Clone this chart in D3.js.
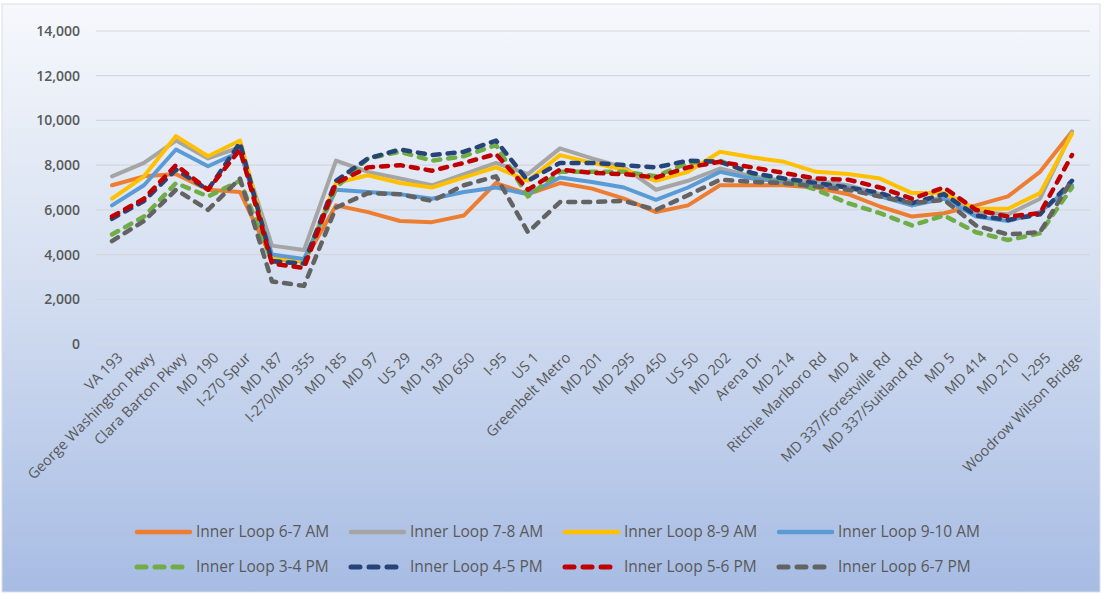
<!DOCTYPE html>
<html><head><meta charset="utf-8">
<script src="https://cdn.jsdelivr.net/npm/d3@7"></script>
<style>html,body{margin:0;padding:0;background:#fff;}svg{display:block;}</style>
</head><body>
<svg id="chart" width="1103" height="595"></svg>
<script>
const categories = ["VA 193","George Washington Pkwy","Clara Barton Pkwy","MD 190","I-270 Spur","MD 187","I-270/MD 355","MD 185","MD 97","US 29","MD 193","MD 650","I-95","US 1","Greenbelt Metro","MD 201","MD 295","MD 450","US 50","MD 202","Arena Dr","MD 214","Ritchie Marlboro Rd","MD 4","MD 337/Forestville Rd","MD 337/Suitland Rd","MD 5","MD 414","MD 210","I-295","Woodrow Wilson Bridge"];
const am67  = [7100,7500,7600,6900,6800,3800,3700,6200,5900,5500,5450,5750,7200,6700,7200,6950,6500,5900,6200,7100,7100,7100,7000,6700,6150,5700,5850,6200,6600,7700,9500];
const am78  = [7500,8100,9100,8300,8800,4400,4200,8200,7700,7400,7100,7600,8100,7600,8750,8300,7900,6900,7300,7850,7500,7300,7300,7100,6700,6200,6600,5900,5800,6500,9500];
const am89  = [6500,7500,9300,8400,9100,3900,3700,7200,7550,7200,7000,7450,7900,7300,8450,8100,7800,7300,7700,8600,8350,8150,7700,7600,7400,6750,6750,6050,6050,6750,9400];
const am910 = [6200,7100,8700,7950,8600,4000,3800,6900,6800,6700,6500,6800,7000,6700,7450,7250,7000,6450,7000,7700,7400,7250,7100,7000,6600,6200,6500,5700,5500,5900,7100];
const pm34  = [4900,5700,7200,6600,7300,3700,3600,7000,8300,8600,8200,8400,8900,6600,7700,7700,7700,7500,8100,8200,7600,7350,6900,6300,5850,5300,5750,5000,4650,4950,7000];
const pm45  = [5600,6400,7800,6900,9000,3700,3600,7300,8300,8700,8450,8600,9100,7300,8100,8100,8000,7900,8200,8150,7650,7400,7200,7000,6750,6300,6700,5750,5550,5800,7300];
const pm56  = [5700,6500,8000,6900,8700,3600,3400,7200,7900,8000,7750,8100,8500,6900,7800,7650,7600,7450,7900,8150,7900,7650,7400,7350,7000,6500,7000,6000,5700,5850,8450];
const pm67  = [4600,5500,6900,6000,7400,2800,2600,6100,6750,6700,6400,7100,7500,5000,6350,6350,6400,6000,6650,7350,7250,7200,7050,6900,6600,6300,6450,5300,4900,5000,7350];
const seriesNames = ["Inner Loop 6-7 AM","Inner Loop 7-8 AM","Inner Loop 8-9 AM","Inner Loop 9-10 AM","Inner Loop 3-4 PM","Inner Loop 4-5 PM","Inner Loop 5-6 PM","Inner Loop 6-7 PM"];
const seriesValues = [am67, am78, am89, am910, pm34, pm45, pm56, pm67];
const seriesColors = ["#ED7D31","#A5A5A5","#FFC000","#5B9BD5","#70AD47","#264478","#C00000","#636363"];
const seriesDashed = [false,false,false,false,true,true,true,true];
const yTicks = [0,2000,4000,6000,8000,10000,12000,14000];

const svg = d3.select("#chart");
const W = 1103, H = 595;
const defs = svg.append("defs");
const grad = defs.append("linearGradient").attr("id","bg").attr("x1",0).attr("y1",0).attr("x2",0).attr("y2",1);
grad.append("stop").attr("offset","0%").attr("stop-color","#f6f8fc");
grad.append("stop").attr("offset","45%").attr("stop-color","#d6e0f1");
grad.append("stop").attr("offset","100%").attr("stop-color","#a7bce4");
svg.append("rect").attr("x",2).attr("y",4).attr("width",W-5).attr("height",H-7)
  .attr("fill","url(#bg)").attr("stroke","#d9dde6").attr("stroke-width",1);

const x = d3.scaleBand().domain(categories).range([96,1088]);
const y = d3.scaleLinear().domain([0,14000]).range([344,31]);
const fontFam = "'Open Sans', sans-serif";

// gridlines
svg.append("g").selectAll("line").data(yTicks).join("line")
  .attr("x1",96).attr("x2",1090).attr("y1",d=>y(d)).attr("y2",d=>y(d))
  .attr("stroke", d=> d===0 ? "#d6dce8" : "#d3d8e0").attr("stroke-width",1.2);

// y axis labels
const yAxis = d3.axisLeft(y).tickValues(yTicks).tickSize(0).tickPadding(0).tickFormat(d3.format(","));
const ya = svg.append("g").attr("transform","translate(80,0)").call(yAxis);
ya.select(".domain").remove();
ya.selectAll("text").attr("font-family",fontFam).attr("font-size",14).attr("fill","#595959").attr("font-weight",600);

// x axis labels
const xAxis = d3.axisBottom(x).tickSize(0).tickPadding(0);
const xa = svg.append("g").attr("transform","translate(0,350)").call(xAxis);
xa.select(".domain").remove();
xa.selectAll("text").attr("font-family",fontFam).attr("font-size",14.5).attr("fill","#595959")
  .attr("text-anchor","end").attr("dy","0.35em")
  .attr("transform","translate(8,5) rotate(-45)");

// lines
const line = d3.line().x((d,i)=>x(categories[i])+x.bandwidth()/2).y(d=>y(d));
seriesValues.forEach((vals,k)=>{
  svg.append("path").datum(vals).attr("d",line)
    .attr("fill","none").attr("stroke",seriesColors[k])
    .attr("stroke-width", seriesDashed[k] ? 4.5 : 4)
    .attr("stroke-linejoin","round")
    .attr("stroke-linecap","round")
    .attr("stroke-dasharray", seriesDashed[k] ? "7,8" : null);
});

// legend
const leg = svg.append("g");
seriesNames.forEach((name,k)=>{
  const col = k%4, row = Math.floor(k/4);
  const lx = 135 + col*214, ly = 532 + row*35;
  leg.append("line").attr("x1",lx+2).attr("x2",lx+55).attr("y1",ly).attr("y2",ly)
    .attr("stroke",seriesColors[k]).attr("stroke-width", seriesDashed[k]?5:4.5)
    .attr("stroke-linecap","round")
    .attr("stroke-dasharray", seriesDashed[k] ? "9,9" : null);
  leg.append("text").attr("x",lx+61).attr("y",ly).attr("dy","0.35em")
    .attr("font-family",fontFam).attr("font-size",15.5).attr("fill","#595959").text(name);
});
</script>
</body></html>
